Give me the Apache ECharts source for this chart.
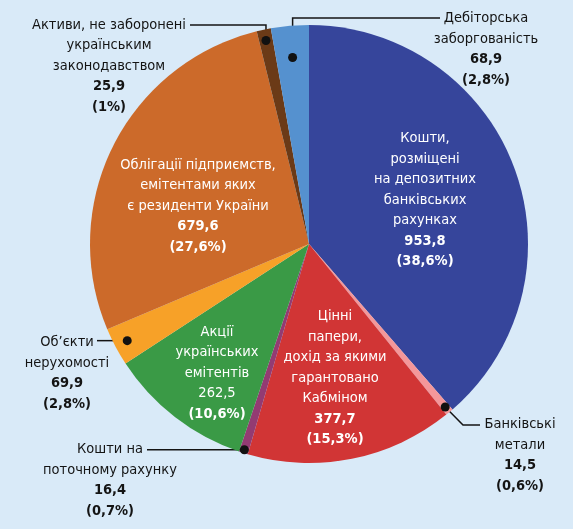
<!DOCTYPE html>
<html><head><meta charset="utf-8">
<script src="https://cdn.jsdelivr.net/npm/echarts@6/dist/echarts.min.js"></script>
<style>html,body{margin:0;padding:0;background:#d9eaf8}#c{width:573px;height:529px}</style>
</head><body><div id="c"></div>
<script>
// ---- data ----
const categories = [
  'Кошти,\nрозміщені\nна депозитних\nбанківських\nрахунках',
  'Банківські\nметали',
  'Цінні\nпапери,\nдохід за якими\nгарантовано\nКабміном',
  'Кошти на\nпоточному рахунку',
  'Акції\nукраїнських\nемітентів',
  'Об’єкти\nнерухомості',
  'Облігації підприємств,\nемітентами яких\nє резиденти України',
  'Активи, не заборонені\nукраїнським\nзаконодавством',
  'Дебіторська\nзаборгованість'
];
const values = [953.8, 14.5, 377.7, 16.4, 262.5, 69.9, 679.6, 25.9, 68.9];
const percentLabels = ['38,6%', '0,6%', '15,3%', '0,7%', '10,6%', '2,8%', '27,6%', '1%', '2,8%'];

// ---- style / layout ----
const colors = ['#36459b', '#f4979a', '#d13535', '#933b72', '#3a9a46', '#f7a128', '#cc6a2a', '#6b3a17', '#5591cf'];
const FONT = '"DejaVu Sans Condensed", "Liberation Sans Narrow", sans-serif';
const FS = 14.5, LH = 20.5;
const CX = 309, CY = 244, R = 219;
// label block centre offsets from pie centre
const labelPos = [[116,-44],[211,211],[26,134],[-199,236],[-92,129],[-242,129],[-111,-38],[-200,-178],[177,-195]];
const inside = [true,false,true,false,true,false,true,false,false];
const boldValue = [true,true,true,true,false,true,true,true,true];
// leader lines: dot radius fraction, elbow type and end points (offsets from centre)
const leaders = {
  1: {rf: 0.97, pts: [[154,181],[171,181]]},
  3: {rf: 0.985, horiz: -162},
  5: {rf: 0.94, horiz: -212},
  7: {rf: 0.95, vert: -219, end: -119},
  8: {rf: 0.855, vert: -226, end: 131}
};

const total = values.reduce((a,b)=>a+b,0);
const mids = [];
let cum = 0;
values.forEach(v => { mids.push((cum + v/2)/total*2*Math.PI); cum += v; });
function dotPos(i){
  const r = R*leaders[i].rf, a = mids[i];
  return [CX + r*Math.sin(a), CY - r*Math.cos(a)];
}
function linePts(i){
  const L = leaders[i], d = dotPos(i);
  if (L.pts) return [d, [CX+L.pts[0][0], CY+L.pts[0][1]], [CX+L.pts[1][0], CY+L.pts[1][1]]];
  if (L.horiz !== undefined) return [d, [(d[0]+CX+L.horiz)/2, d[1]], [CX+L.horiz, d[1]]];
  return [d, [d[0], CY+L.vert], [CX+L.end, CY+L.vert]];
}
const fmt = v => String(v).replace('.', ',');

const data = values.map((v,i) => {
  const col = inside[i] ? '#ffffff' : '#141414';
  const lines = categories[i].split('\n').map(s => '{n|' + s + '}');
  lines.push((boldValue[i] ? '{b|' : '{n|') + fmt(v) + '}');
  lines.push('{b|(' + percentLabels[i] + ')}');
  return {
    name: categories[i], value: v,
    itemStyle: {color: colors[i], borderWidth: 0},
    label: {
      show: true,
      position: inside[i] ? 'inside' : 'outside',
      formatter: lines.join('\n'),
      rich: {
        n: {color: col, fontSize: FS, lineHeight: LH, fontFamily: FONT, align: 'center'},
        b: {color: col, fontSize: FS, lineHeight: LH, fontFamily: FONT, fontWeight: 'bold', align: 'center'}
      }
    },
    labelLine: {show: !inside[i], lineStyle: {color: '#141414', width: 1.5}}
  };
});

const chart = echarts.init(document.getElementById('c'));
const dots = Object.keys(leaders).map(k => {
  const d = dotPos(+k);
  return {type: 'circle', z: 100, shape: {cx: d[0], cy: d[1], r: 4.5}, style: {fill: '#111'}, silent: true};
});
chart.setOption({
  backgroundColor: '#d9eaf8',
  animation: false,
  graphic: dots,
  series: [{
    type: 'pie',
    center: [CX, CY],
    radius: R,
    startAngle: 90,
    clockwise: true,
    avoidLabelOverlap: false,
    silent: true,
    itemStyle: {borderWidth: 0},
    data: data,
    labelLayout: function(p){
      const i = p.dataIndex;
      const o = {x: CX + labelPos[i][0], y: CY + labelPos[i][1], align: 'center', verticalAlign: 'middle'};
      if (!inside[i]) o.labelLinePoints = linePts(i);
      return o;
    }
  }]
});
</script></body></html>
